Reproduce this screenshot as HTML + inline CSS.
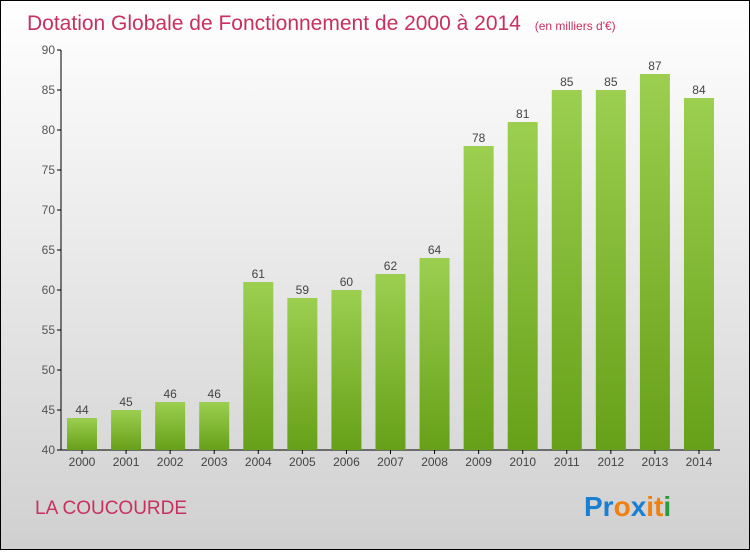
<!DOCTYPE html>
<html><head><meta charset="utf-8"><style>
html,body{margin:0;padding:0}
body{width:750px;height:550px;overflow:hidden;font-family:"Liberation Sans",sans-serif}
</style></head><body>
<svg width="750" height="550" xmlns="http://www.w3.org/2000/svg">
<defs>
<linearGradient id="bg" x1="0" y1="0" x2="0" y2="1"><stop offset="0" stop-color="#ffffff"/><stop offset="1" stop-color="#d0d0d0"/></linearGradient>
<linearGradient id="bar" x1="0" y1="0" x2="0" y2="1"><stop offset="0" stop-color="#9ccf50"/><stop offset="1" stop-color="#66a018"/></linearGradient>
</defs>
<rect x="0.5" y="0.5" width="749" height="549" fill="url(#bg)" stroke="#000"/>
<text x="27" y="30" font-size="21" fill="#c8305f">Dotation Globale de Fonctionnement de 2000 à 2014 <tspan font-size="12" dx="8">(en milliers d'€)</tspan></text>
<g id="axes"></g>
<g id="bars"></g>
<text x="35" y="514" font-size="19" fill="#c8305f">LA COUCOURDE</text>
<g font-size="28" font-weight="bold" font-family="Liberation Sans, sans-serif">
<text x="584" y="516"><tspan fill="#1a7fd0">Pr</tspan><tspan fill="#f08010">o</tspan><tspan fill="#1a7fd0">x</tspan><tspan fill="#f08010">i</tspan><tspan fill="#f08010">t</tspan><tspan fill="#2a9a40">i</tspan></text>
</g>
</svg>
<script>
const years=["2000","2001","2002","2003","2004","2005","2006","2007","2008","2009","2010","2011","2012","2013","2014"];
const values=[44,45,46,46,61,59,60,62,64,78,81,85,85,87,84];
const yTicks=[40,45,50,55,60,65,70,75,80,85,90];
(function(){
const NS="http://www.w3.org/2000/svg";
const yMin=40,yMax=90,pTop=50,pBot=450;
const y=v=>pBot-(v-yMin)/(yMax-yMin)*(pBot-pTop);
const x=i=>82+i*44.07;
function mk(t,a,p){const e=document.createElementNS(NS,t);for(const k in a)e.setAttribute(k,a[k]);p.appendChild(e);return e;}
const ax=document.getElementById('axes'),bg=document.getElementById('bars');
let l=mk('line',{x1:61,y1:pTop,x2:61,y2:pBot,stroke:'#000'},ax);


l=mk('line',{x1:61,y1:pBot,x2:720,y2:pBot,stroke:'#000'},ax);


yTicks.forEach(v=>{
 mk('line',{x1:57,y1:y(v),x2:61,y2:y(v),stroke:'#000'},ax);
 const t=mk('text',{x:55,y:y(v)+4,'text-anchor':'end','font-size':12,fill:'#555'},ax);
 t.textContent=v;
 
 
});
years.forEach((yr,i)=>{
 const r=mk('rect',{x:x(i)-15,y:y(values[i]),width:30,height:pBot-y(values[i]),fill:'url(#bar)'},bg);
 
 
 const v=mk('text',{x:x(i),y:y(values[i])-4,'text-anchor':'middle','font-size':12,fill:'#444'},bg);
 v.textContent=values[i];
 
 
 mk('line',{x1:x(i),y1:pBot,x2:x(i),y2:pBot+4,stroke:'#000'},ax);
 const t=mk('text',{x:x(i),y:pBot+16,'text-anchor':'middle','font-size':12,fill:'#444'},ax);
 t.textContent=yr;
 
 
});
})();
</script>
</body></html>
